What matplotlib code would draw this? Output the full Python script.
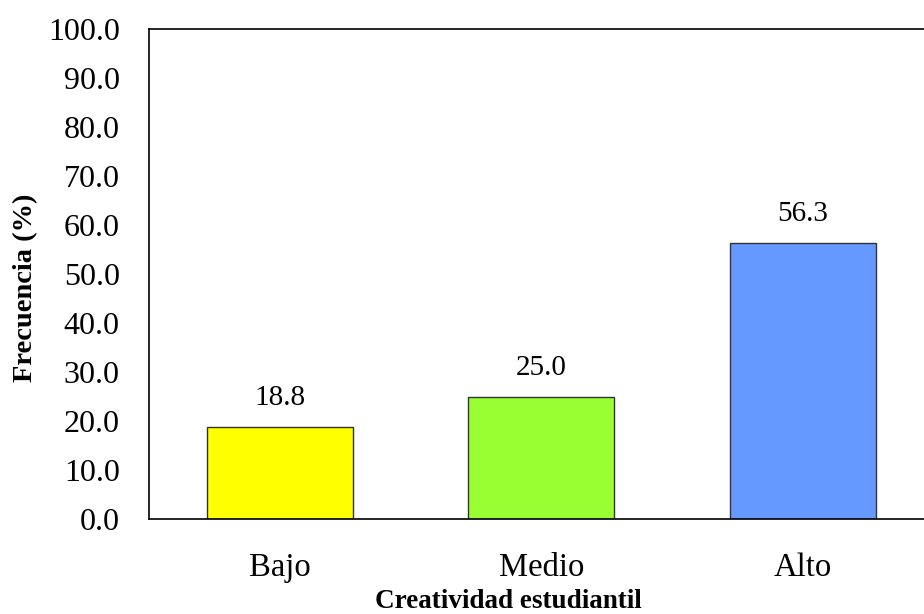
import matplotlib
matplotlib.use("Agg")
import matplotlib.pyplot as plt
import numpy as np

# datos del grafico
categorias = ["Bajo", "Medio", "Alto"]
frecuencias = [18.8, 25.0, 56.3]
colores = ["#FFFF00", "#99FF33", "#6699FF"]
yticks = np.arange(0, 101, 10)

plt.rcParams['font.family'] = ['Liberation Serif', 'DejaVu Serif']

fig = plt.figure(figsize=(9.24, 6.14), dpi=100)
ax = fig.add_axes([149/924, 95/614, 784.5/924, 490/614])

x = np.arange(len(categorias))
bars = ax.bar(x, frecuencias, width=0.558, color=colores, edgecolor="#333333", linewidth=1)

for b, v in zip(bars, frecuencias):
    ax.text(b.get_x() + b.get_width()/2, v + 3.2, "%.1f" % v,
            ha="center", va="bottom", fontsize=21)

ax.set_xlim(-0.5, 2.5)
ax.set_ylim(0, 100)
ax.set_yticks(yticks)
ax.set_yticklabels(["%.1f" % t for t in yticks])
ax.set_xticks(x)
ax.set_xticklabels(categorias)
ax.tick_params(axis="both", length=0)
ax.tick_params(axis="y", pad=21, labelsize=23)
ax.tick_params(axis="x", pad=24, labelsize=23.5)
for s in ax.spines.values():
    s.set_linewidth(1.2)

ax.set_xlabel("Creatividad estudiantil", fontsize=19.5, fontweight="bold")
ax.set_ylabel("Frecuencia (%)", fontsize=20.5, fontweight="bold")
ax.xaxis.label.set_va("center")
ax.yaxis.label.set_va("center")
ax.xaxis.set_label_coords(0.4576, -0.169)
ax.yaxis.set_label_coords(-0.157, 0.471)

fig.savefig("out.png", dpi=100)
